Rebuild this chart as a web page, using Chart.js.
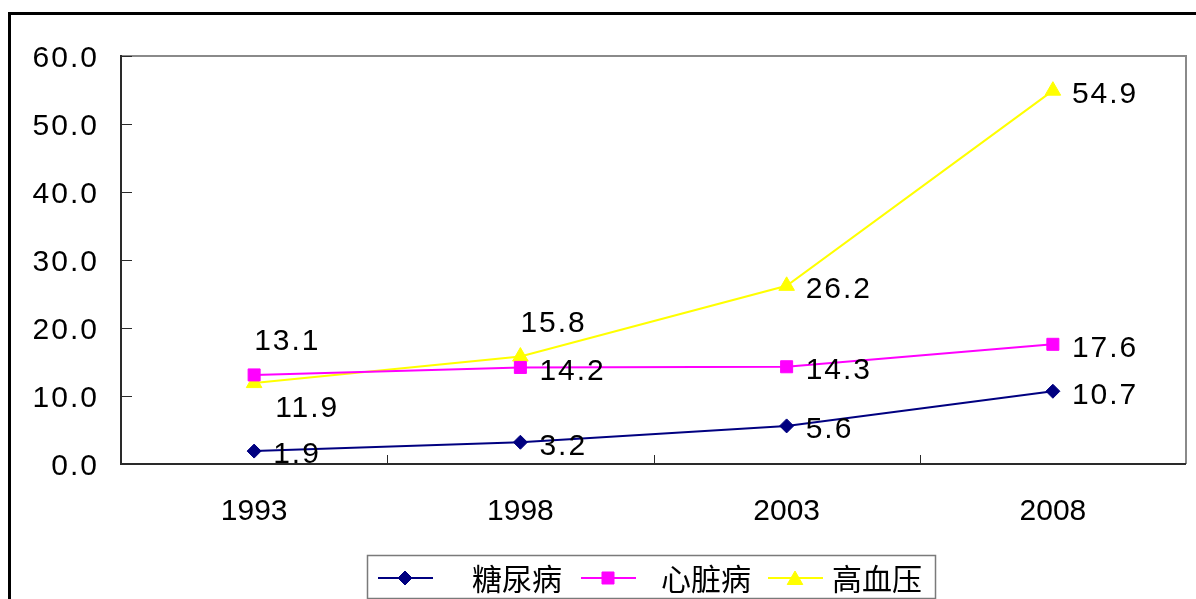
<!DOCTYPE html>
<html>
<head>
<meta charset="utf-8">
<script src="https://cdn.jsdelivr.net/npm/chart.js@4/dist/chart.umd.min.js"></script>
<style>
  html, body { margin: 0; padding: 0; background: #fff; }
  canvas { display: block; }
</style>
</head>
<body>
<canvas id="c" width="1196" height="599"></canvas>
<script>
// Years on the horizontal axis
const years = ['1993', '1998', '2003', '2008'];

// Series names
const seriesNames = ['糖尿病', '心脏病', '高血压'];

// Values per series
const diabetes = [1.9, 3.2, 5.6, 10.7];
const heartDisease = [13.1, 14.2, 14.3, 17.6];
const hypertension = [11.9, 15.8, 26.2, 54.9];

// Value axis ticks
const yTicks = [0, 10, 20, 30, 40, 50, 60];

// Where each value label sits relative to its point
const diabetesLabelSide = ['right', 'right', 'right', 'right'];
const heartLabelSide = ['above', 'right', 'right', 'right'];
const hypertensionLabelSide = ['below', 'above', 'right', 'right'];

const LABEL_FONT = '30px "Liberation Sans", Arial, sans-serif';
const CJK_FONT = '30px "Noto Sans CJK SC", sans-serif';

const sideOffset = {
  right: { dx: 19, dy: 4 },
  above: { dx: 0, dy: -33 },
  below: { dx: 21, dy: 26 }
};

const frameAndLabels = {
  id: 'frameAndLabels',
  beforeDraw(chart) {
    const ctx = chart.ctx;
    ctx.save();
    ctx.fillStyle = '#fff';
    ctx.fillRect(0, 0, chart.width, chart.height);
    ctx.restore();
  },
  beforeDatasetsDraw(chart) {
    const ctx = chart.ctx;
    const a = chart.chartArea;
    const x = chart.scales.x, y = chart.scales.y;
    ctx.save();
    // top and right edges of the plot
    ctx.strokeStyle = '#8a8a8a';
    ctx.lineWidth = 2;
    ctx.beginPath();
    ctx.moveTo(a.left, a.top);
    ctx.lineTo(a.right, a.top);
    ctx.lineTo(a.right, a.bottom);
    ctx.stroke();
    // axes
    ctx.strokeStyle = '#2a2a2a';
    ctx.beginPath();
    ctx.moveTo(a.left, a.top - 1);
    ctx.lineTo(a.left, a.bottom);
    ctx.lineTo(a.right, a.bottom);
    ctx.stroke();
    // inward tick marks on the value axis
    ctx.lineWidth = 1;
    ctx.strokeStyle = '#2a2a2a';
    yTicks.forEach(v => {
      const py = Math.round(y.getPixelForValue(v)) + 0.5;
      ctx.beginPath();
      ctx.moveTo(a.left, py);
      ctx.lineTo(a.left + 11, py);
      ctx.stroke();
    });
    // inward tick marks between categories
    for (let i = 1; i < years.length; i++) {
      const px = Math.round((x.getPixelForValue(i - 1) + x.getPixelForValue(i)) / 2) + 0.5;
      ctx.beginPath();
      ctx.moveTo(px, a.bottom);
      ctx.lineTo(px, a.bottom - 9);
      ctx.stroke();
    }
    // value axis labels
    ctx.font = LABEL_FONT;
    ctx.fillStyle = '#000';
    ctx.textAlign = 'right';
    ctx.textBaseline = 'middle';
    ctx.letterSpacing = '2px';
    yTicks.forEach(v => {
      ctx.fillText(v.toFixed(1), a.left - 22, y.getPixelForValue(v) + 3);
    });
    ctx.restore();
  },
  afterDatasetsDraw(chart) {
    const ctx = chart.ctx;
    const sides = [diabetesLabelSide, heartLabelSide, hypertensionLabelSide];
    ctx.save();
    ctx.font = LABEL_FONT;
    ctx.fillStyle = '#000';
    ctx.textAlign = 'left';
    ctx.textBaseline = 'middle';
    ctx.letterSpacing = '2px';
    chart.data.datasets.forEach((ds, di) => {
      const meta = chart.getDatasetMeta(di);
      meta.data.forEach((pt, i) => {
        const off = sideOffset[sides[di][i]];
        ctx.fillText(ds.data[i].toFixed(1), pt.x + off.dx, pt.y + off.dy);
      });
    });
    ctx.restore();
  },
  afterDraw(chart) {
    const ctx = chart.ctx;
    ctx.save();
    // outer frame
    ctx.strokeStyle = '#000';
    ctx.lineWidth = 3;
    ctx.beginPath();
    ctx.moveTo(9.5, chart.height + 2);
    ctx.lineTo(9.5, 13.5);
    ctx.lineTo(chart.width + 2, 13.5);
    ctx.stroke();

    // legend
    const box = { x: 367, y: 555, w: 568, h: 43 };
    ctx.strokeStyle = '#7a7a7a';
    ctx.lineWidth = 1.5;
    ctx.strokeRect(box.x + 0.5, box.y + 0.5, box.w, box.h);
    const cy = box.y + 23;
    const items = [
      { lx: 378, tx: 472 },
      { lx: 581, tx: 661 },
      { lx: 768, tx: 832 }
    ];
    chart.data.datasets.forEach((ds, di) => {
      const it = items[di];
      ctx.strokeStyle = ds.borderColor;
      ctx.lineWidth = 2;
      ctx.beginPath();
      ctx.moveTo(it.lx, cy);
      ctx.lineTo(it.lx + 55, cy);
      ctx.stroke();
      ctx.fillStyle = ds.pointBackgroundColor;
      ctx.strokeStyle = ds.pointBorderColor;
      ctx.lineWidth = 1;
      Chart.helpers.drawPoint(ctx, {
        pointStyle: ds.pointStyle,
        radius: ds.pointRadius,
        rotation: 0,
        borderWidth: 1
      }, it.lx + 27, cy + (ds.pointStyle === 'triangle' ? 2 : 0));
      ctx.fillStyle = '#000';
      ctx.font = CJK_FONT;
      ctx.textAlign = 'left';
      ctx.textBaseline = 'middle';
      ctx.fillText(ds.label, it.tx, cy + 1);
    });
    ctx.restore();
  }
};

const colors = ['#000080', '#ff00ff', '#ffff00'];
const styles = ['rectRot', 'rect', 'triangle'];
const radii = [7, 8.5, 9];
const values = [diabetes, heartDisease, hypertension];

new Chart(document.getElementById('c'), {
  type: 'line',
  data: {
    labels: years,
    datasets: values.map((vals, i) => ({
      label: seriesNames[i],
      data: vals,
      borderColor: colors[i],
      backgroundColor: colors[i],
      pointBackgroundColor: colors[i],
      pointBorderColor: colors[i],
      pointStyle: styles[i],
      pointRadius: radii[i],
      pointBorderWidth: 1,
      borderWidth: 2,
      tension: 0,
      fill: false
    }))
  },
  options: {
    responsive: false,
    animation: false,
    devicePixelRatio: 1,
    layout: { padding: { left: 0, right: 8, top: 56, bottom: 0 } },
    plugins: { legend: { display: false }, tooltip: { enabled: false } },
    scales: {
      x: {
        offset: true,
        grid: { display: false, drawTicks: false },
        border: { display: false },
        ticks: {
          color: '#000',
          font: { family: '"Liberation Sans", Arial, sans-serif', size: 30 },
          padding: 30,
          maxRotation: 0
        },
        afterFit(s) { s.height = 135; }
      },
      y: {
        min: 0,
        max: 60,
        grid: { display: false, drawTicks: false },
        border: { display: false },
        ticks: { display: false, stepSize: 10 },
        afterFit(s) { s.width = 121; }
      }
    }
  },
  plugins: [frameAndLabels]
});
</script>
</body>
</html>
